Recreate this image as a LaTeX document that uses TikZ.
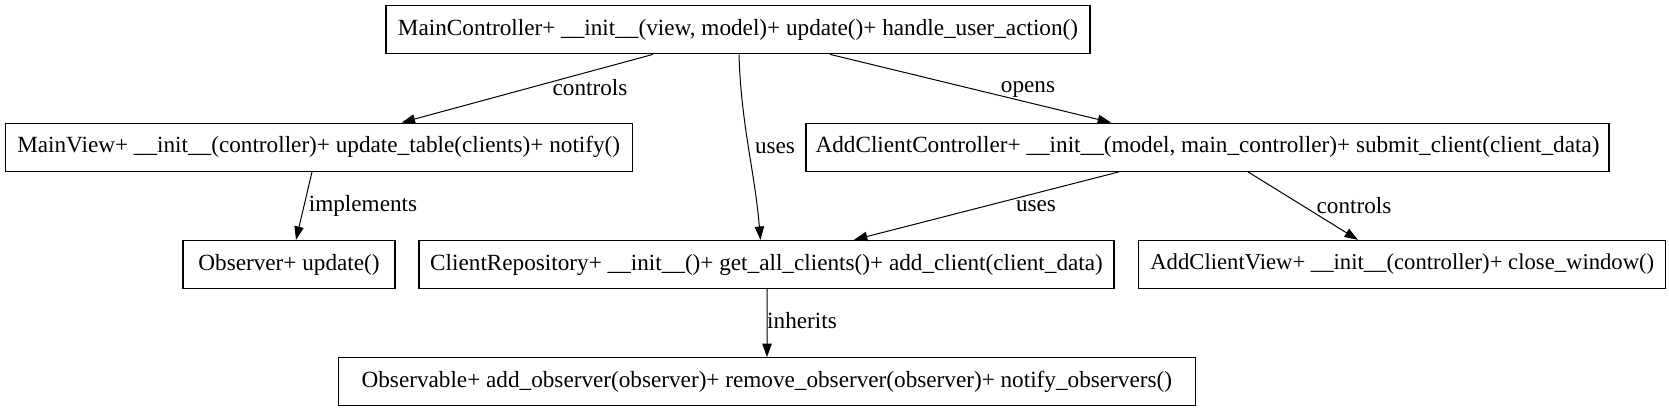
\documentclass[tikz,border=0pt]{standalone}
\usepackage{fontspec}
\setmainfont{Liberation Serif}
\usetikzlibrary{arrows.meta,calc}
\begin{document}
\begin{tikzpicture}[x=0.75pt,y=-0.75pt,
  cls/.style={draw, line width=1pt, rectangle, minimum height=36pt, inner sep=0pt, font=\fontsize{17.4}{19}\selectfont},
  edge/.style={line width=0.75pt, -{Triangle[length=10pt,width=7pt]}},
  lbl/.style={font=\fontsize{17.4}{19}\selectfont, inner sep=0pt}]
\useasboundingbox (0,0) rectangle (1669,412);
\node[cls, minimum width=528pt] (mc) at (738,29.7) {MainController+ \_\_init\_\_(view, model)+ update()+ handle\_user\_action()};
\node[cls, minimum width=470.25pt] (mv) at (318.7,147.2) {MainView+ \_\_init\_\_(controller)+ update\_table(clients)+ notify()};
\node[cls, minimum width=602.25pt] (acc) at (1207.5,147.2) {AddClientController+ \_\_init\_\_(model, main\_controller)+ submit\_client(client\_data)};
\node[cls, minimum width=159pt] (obs) at (289,264.5) {Observer+ update()};
\node[cls, minimum width=521.25pt] (cr) at (766.5,264.5) {ClientRepository+ \_\_init\_\_()+ get\_all\_clients()+ add\_client(client\_data)};
\node[cls, minimum width=395.25pt, font=\fontsize{17}{19}\selectfont] (acv) at (1402.3,264.5) {AddClientView+ \_\_init\_\_(controller)+ close\_window()};
\node[cls, minimum width=642.75pt] (obl) at (766.8,381.7) {Observable+ add\_observer(observer)+ remove\_observer(observer)+ notify\_observers()};

\draw[edge] ($(mc.south)+(-85,0)$) -- ($(mv.north)+(83,0)$);
\draw[edge] ($(mc.south)+(1,0)$) .. controls ($(mc.south)+(3,70)$) and ($(cr.north)+(-12,-70)$) .. ($(cr.north)+(-6,0)$);
\draw[edge] ($(mc.south)+(92,0)$) -- ($(acc.north)+(-96.5,0)$);
\draw[edge] ($(mv.south)+(-6.7,0)$) -- ($(obs.north)+(7,0)$);
\draw[edge] ($(acc.south)+(-88.5,0)$) -- ($(cr.north)+(87.5,0)$);
\draw[edge] ($(acc.south)+(40.5,0)$) -- ($(acv.north)+(-44.4,0)$);
\draw[edge] ($(cr.south)+(0.5,0)$) -- ($(obl.north)+(0.2,0)$);

\node[lbl] (l1) at (590,88) {controls};
\node[lbl] (l2) at (1028,89) {opens};
\node[lbl] (l3) at (775,148) {uses};
\node[lbl] (l4) at (363,206) {implements};
\node[lbl] (l5) at (1036,206) {uses};
\node[lbl] (l6) at (1354,206) {controls};
\node[lbl] (l7) at (802,321) {inherits};
\end{tikzpicture}
\end{document}
